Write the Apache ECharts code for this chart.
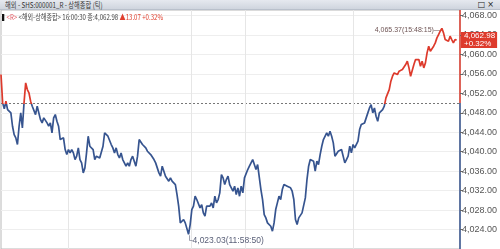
<!DOCTYPE html>
<html><head><meta charset="utf-8">
<script src="https://cdn.jsdelivr.net/npm/echarts@6/dist/echarts.min.js"></script>
<style>
html,body{margin:0;padding:0;background:#fff;width:500px;height:249px;overflow:hidden;}
#chart{position:absolute;left:0;top:0;width:500px;height:249px;}
#titlebar{position:absolute;left:0;top:0;width:500px;height:10px;background:linear-gradient(#e6e9ef,#cfd5de);border-bottom:1px solid #b9c0cb;z-index:3;box-sizing:border-box;}
#titlebar .t{position:absolute;left:5px;top:0;font:8px/10px 'Noto Sans CJK KR',sans-serif;color:#333;white-space:nowrap;transform:scaleX(0.78);transform-origin:0 0;}
#titlebar .icons{position:absolute;right:4px;top:0;font:8px/10px 'DejaVu Sans',sans-serif;color:#222;letter-spacing:2px;}
#info{position:absolute;left:2px;top:12px;font:8px/10px 'Noto Sans CJK KR',sans-serif;color:#444;z-index:3;white-space:nowrap;transform:scaleX(0.76);transform-origin:0 0;}
#info .blk{display:inline-block;width:3px;height:7px;background:#111;margin-right:3px;vertical-align:-1px;}
#info .r{color:#e0505a;}
#info .up{color:#e0402f;}
</style></head>
<body>
<div id="chart"></div>
<div id="titlebar"><span class="t">해외 - SHS:000001_R - 상해종합 (틱)</span><span class="icons">□×</span></div>
<div id="info"><span class="blk"></span><span class="r">&lt;R&gt;</span> &lt;해외-상해종합&gt; 16:00:30 종:4,062.98 <span class="up">▲13.07 +0.32%</span></div>
<script>
// Tick-by-tick prices
const pricesMorning1 = [4055.87,4050.04,4048.81,4050.38,4048.67,4049.01,4047.99,4045.24,4043.53,4042.85,4041.48,4045.24,4047.99,4044.90,4050.04,4054.15,4052.78,4052.10,4050.38,4049.36,4049.70,4047.64,4049.36,4049.70,4046.61,4045.93,4046.96,4046.61,4045.93,4045.24,4045.93,4043.87,4046.96,4047.64,4046.27,4045.24,4042.50,4042.16,4042.85,4040.45,4039.42,4040.45,4039.76,4040.45,4039.76,4038.39,4039.08,4040.79,4038.39,4037.71,4035.65,4036.68,4039.76,4043.19,4041.13,4040.79,4040.45,4038.39,4039.08,4039.42,4038.73,4038.39,4041.13,4043.87,4044.22,4043.19,4042.85,4041.48,4040.79];
const pricesMorning2 = [4039.76,4040.79,4039.42,4038.73,4039.76,4038.39,4037.71,4037.02,4037.71,4037.02,4038.39,4039.08,4038.05,4037.02,4039.08,4042.50,4042.50,4041.48,4041.13,4040.79,4040.10,4040.45,4039.42,4039.42,4038.39,4037.71,4036.68,4035.65,4034.97,4037.02,4037.36,4034.97,4034.62,4033.94,4034.62,4033.94,4033.59,4033.25,4031.20,4028.80,4025.37,4025.03,4026.06,4025.37,4025.71,4023.03,4025.03,4028.11,4028.80,4030.85,4030.17,4030.51,4028.45,4029.14,4027.43,4026.74,4028.80,4029.14,4028.80,4029.48,4028.45,4030.85,4029.48,4030.17,4031.54,4035.31,4034.62,4033.25,4034.28];
const pricesAfternoon1 = [4034.97,4033.25,4032.57,4031.88,4032.91,4031.20,4032.57,4030.85,4032.91,4031.54,4034.62,4034.97,4036.34,4037.02,4037.71,4038.39,4037.36,4036.34,4037.36,4037.02,4032.22,4030.17,4027.08,4026.40,4025.37,4025.71,4024.68,4023.66,4025.37,4028.11,4029.48,4030.85,4030.17,4032.22,4033.25,4033.59,4032.91,4033.25,4032.57,4031.88,4030.17,4026.06,4025.03,4026.40,4026.74,4027.43,4027.77,4030.51,4034.28,4037.02,4038.39,4038.73,4038.05,4036.00,4038.05,4037.36,4039.42,4041.13,4042.50,4042.85,4043.87,4043.19,4044.22,4043.19,4041.82,4039.08,4038.73,4040.10,4040.45];
const pricesAfternoon2 = [4040.45,4040.10,4037.71,4038.39,4039.08,4041.13,4039.76,4041.48,4040.79,4041.13,4042.16,4044.56,4045.59,4045.24,4045.93,4046.96,4047.99,4049.01,4049.70,4047.99,4049.01,4047.30,4046.27,4047.99,4047.64,4048.67,4049.36,4051.07,4051.07,4052.78,4054.50,4055.52,4056.21,4056.55,4055.87,4056.55,4056.55,4056.89,4056.89,4057.92,4058.61,4057.24,4055.52,4055.87,4057.92,4058.95,4058.61,4058.95,4057.58,4058.61,4057.24,4058.27,4060.32,4061.69,4060.66,4060.66,4061.69,4062.38,4063.41,4064.09,4064.78,4065.37,4064.43,4063.06,4063.41,4062.72,4063.75,4063.06,4062.38,4063.06,4062.98];
const prevClose = 4049.91;
const lastPrice = 4062.98;
const changePct = '+0.32%';
const maxTime = '15:48:15';
const minTime = '11:58:50';
const yTicks = [4024,4028,4032,4036,4040,4044,4048,4052,4056,4060,4064,4068];
// tick positions of the hour boundaries (11:00, 12:00, 12:30|14:00, 15:00)
const hourMarks = [40.8, 115.8, 148.2, 214.2];
const totalTicks = 280;

const prices = pricesMorning1.concat(pricesMorning2, pricesAfternoon1, pricesAfternoon2);
const RED = '#dd3a2c', BLUE = '#36548f';
const fmt = v => echarts.format.addCommas(v.toFixed(2));
const yMin = 4020, yMax = 4069.14;
const frac = (yMax - prevClose) / (yMax - yMin);
const FONT = "'Liberation Sans Narrow','Liberation Sans',sans-serif";

let maxI = 0, minI = 0;
prices.forEach((v, i) => { if (v > prices[maxI]) maxI = i; if (v < prices[minI]) minI = i; });

const chart = echarts.init(document.getElementById('chart'), null, {renderer: 'canvas'});
chart.setOption({
  animation: false,
  backgroundColor: '#fff',
  grid: {left: 1, right: 33, top: 10, bottom: 0, show: true, borderColor: '#b8b8b8', borderWidth: 1},
  xAxis: {type: 'value', min: 0, max: totalTicks - 1, show: false, splitLine: {show: false}},
  yAxis: {
    type: 'value', position: 'right', min: yMin, max: yMax, interval: 4,
    axisLine: {show: true, onZero: false, lineStyle: {width: 1.5, color: new echarts.graphic.LinearGradient(0, 0, 0, 1, [
      {offset: 0, color: RED}, {offset: frac, color: RED}, {offset: frac, color: BLUE}, {offset: 1, color: BLUE}])}},
    axisTick: {show: true, length: 3, inside: false, customValues: yTicks, lineStyle: {color: '#666'}},
    axisLabel: {customValues: yTicks, formatter: v => fmt(v), fontSize: 9, color: '#555', margin: 2, fontFamily: FONT},
    splitLine: {show: true, lineStyle: {color: '#eeeeee', width: 1}}
  },
  visualMap: {show: false, type: 'piecewise', dimension: 1, seriesIndex: 0,
    pieces: [{gt: prevClose, lte: 4200, color: RED}, {gte: 3900, lte: prevClose, color: BLUE}]},
  series: [{
    type: 'line', showSymbol: false, z: 5, clip: false,
    data: prices.map((v, i) => [i, v]),
    lineStyle: {width: 1.7},
    markLine: {
      silent: true, symbol: 'none', animation: false,
      data: [
        {yAxis: prevClose, lineStyle: {type: [2, 2], color: '#777', width: 1}, label: {show: false}},
        {yAxis: lastPrice, lineStyle: {color: 'rgba(0,0,0,0)', width: 0},
          label: {show: true, position: 'end', distance: 1, formatter: fmt(lastPrice) + '\n' + changePct,
            backgroundColor: RED, color: '#fff', fontSize: 8, lineHeight: 8, padding: [0, 2, 0, 3], fontFamily: FONT}}
      ].concat(hourMarks.map(x => ({xAxis: x, lineStyle: {type: 'solid', color: '#e6e6e6', width: 1}, label: {show: false}})))
    },
    markPoint: {
      symbolSize: 0, silent: true,
      data: [
        {coord: [maxI, prices[maxI]], value: prices[maxI], label: {show: true, position: 'left', distance: 1, offset: [0, 2],
          formatter: fmt(prices[maxI]) + '(' + maxTime + ')—', fontSize: 7, color: '#6e5454', fontFamily: FONT}},
        {coord: [minI, prices[minI]], value: prices[minI], label: {show: true, position: [-2, 2], align: 'left', verticalAlign: 'top',
          formatter: '└' + fmt(prices[minI]) + '(' + minTime + ')', fontSize: 8.5, color: '#5a6078', fontFamily: FONT}}
      ]
    }
  }]
});
</script>
</body></html>
